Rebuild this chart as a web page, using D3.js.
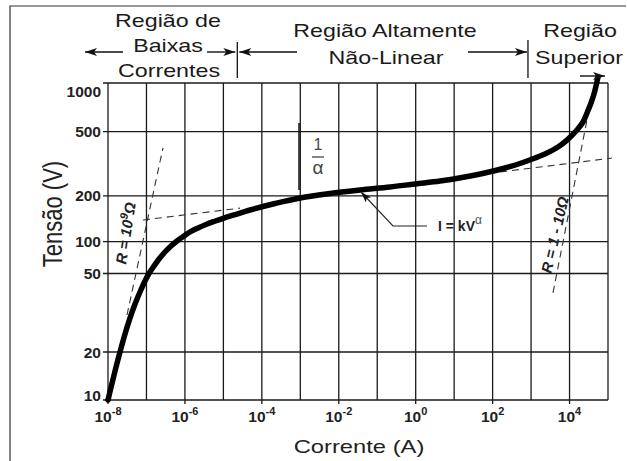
<!DOCTYPE html>
<html><head><meta charset="utf-8">
<script src="https://cdn.jsdelivr.net/npm/d3@7"></script>
<style>
body{margin:0;background:#fff}
svg{display:block}
text{font-family:"Liberation Sans",Arial,Helvetica,sans-serif}
</style>
</head><body>
<svg id="chart" width="627" height="461"></svg>
<script>
// ---------- data ----------
const currentA = [1e-8, 1.27e-8, 1.61e-8, 2.05e-8, 2.77e-8, 3.73e-8, 5.04e-8, 6.79e-8, 9.16e-8, 1.16e-7,
  1.57e-7, 2.12e-7, 3.03e-7, 4.35e-7, 6.22e-7, 9.46e-7, 1.44e-6, 2.19e-6, 3.53e-6, 5.70e-6,
  1.04e-5, 1.89e-5, 4.92e-5, 2.20e-4, 9.82e-4, 5.92e-3, 0.0356, 0.215, 0.959, 4.29,
  16.0, 71.4, 210, 515, 1265, 2594, 5012, 8590, 15630, 22390, 28440, 36140, 43250, 48750, 54950];
const voltageV = [10, 12.7, 16.0, 20, 24.7, 29.7, 35.0, 40.3, 45.8, 50,
  58.9, 68.6, 79.9, 91.1, 101.1, 109, 116.7, 123, 129.7, 135.7,
  143, 149.7, 161.4, 178, 193.5, 206.7, 217.2, 226.8, 236.9, 247.1,
  259.9, 279, 297.6, 317.4, 343.2, 368.6, 401.8, 443.6, 512.2, 574.1, 652.5, 752, 855, 958, 1089];

const xTickExps = [-8, -6, -4, -2, 0, 2, 4];
const xGridExps = [-8, -7, -6, -5, -4, -3, -2, -1, 0, 1, 2, 3, 4, 5];
const yTicks = [10, 20, 50, 100, 200, 500, 1000];
const yTickLabels = ["10", "20", "50", "100", "200", "500", "1000"];

// dashed asymptote lines (current, voltage)
const dashR9I = [3.12e-8, 2.69e-7];   const dashR9V = [30.8, 397];
const dashLowI = [8.1e-8, 2.7e-5];    const dashLowV = [138.8, 166];
const dashHighI = [155, 127000];      const dashHighV = [281, 343];
const dashR1I = [3715, 32000];        const dashR1V = [39.9, 681];

// region boundaries (current)
const regionBounds = [2.3e-5, 830];

// ---------- layout ----------
const svg = d3.select("#chart");
const L = 108, R = 608, T = 83, B = 400;
const x = d3.scaleLog().domain([1e-8, 1e5]).range([L, R]);
// the printed grid is not an exact log grid: piecewise log scale
const y = d3.scaleLog().domain(yTicks).range([400, 352, 273.5, 241.7, 195.8, 131.7, 83]);

const ink = "#1a1a1a";
const SX = 1.25; // horizontal stretch of the printed lettering

// frame
svg.append("path").attr("d", "M10,461V6H626").attr("fill", "none").attr("stroke", "#333").attr("stroke-width", 1.2);

// markers
const defs = svg.append("defs");
defs.append("marker").attr("id", "ah").attr("viewBox", "0 0 12 8").attr("refX", 12).attr("refY", 4)
  .attr("markerWidth", 13).attr("markerHeight", 8).attr("markerUnits", "userSpaceOnUse").attr("orient", "auto")
  .append("path").attr("d", "M0,0L12,4L0,8L3,4Z").attr("fill", "#111");
defs.append("marker").attr("id", "ah2").attr("viewBox", "0 0 12 8").attr("refX", 12).attr("refY", 4)
  .attr("markerWidth", 11).attr("markerHeight", 8).attr("markerUnits", "userSpaceOnUse").attr("orient", "auto")
  .append("path").attr("d", "M0,0L12,4L0,8L3,4Z").attr("fill", "#111");

// grid
const g = svg.append("g");
g.selectAll(".vx").data(xGridExps).join("line")
  .attr("x1", d => x(Math.pow(10, d))).attr("x2", d => x(Math.pow(10, d)))
  .attr("y1", T).attr("y2", d => xTickExps.includes(d) ? B + 4 : B)
  .attr("stroke", ink).attr("stroke-width", 1.3);
g.selectAll(".hy").data(yTicks).join("line")
  .attr("x1", L - 5).attr("x2", R)
  .attr("y1", d => y(d)).attr("y2", d => y(d))
  .attr("stroke", ink).attr("stroke-width", 1.3);

// y tick labels
g.selectAll(".yl").data(yTicks).join("text")
  .attr("x", 101).attr("y", d => Math.min(Math.max(y(d), T + 8), B - 5)).attr("dy", "0.36em")
  .attr("text-anchor", "end").attr("font-size", 15.5).attr("font-weight", "bold").attr("fill", "#222")
  .text((d, i) => yTickLabels[i]);

// x tick labels
const xl = g.selectAll(".xl").data(xTickExps).join("text")
  .attr("x", d => x(Math.pow(10, d))).attr("y", 422).attr("text-anchor", "middle")
  .attr("font-weight", "bold").attr("fill", "#222");
xl.append("tspan").attr("font-size", 15.5).text("10");
xl.append("tspan").attr("font-size", 11).attr("dy", -7).text(d => d);

// axis titles
svg.append("text").attr("transform", `translate(${(L + R) / 2 + 1},453) scale(${SX},1)`)
  .attr("text-anchor", "middle").attr("font-size", 19).attr("fill", "#222").text("Corrente (A)");
svg.append("text").attr("transform", `translate(62,214) rotate(-90) scale(1,${SX})`)
  .attr("text-anchor", "middle").attr("font-size", 22).attr("fill", "#222").text("Tensão (V)");

// dashed lines
const dash = (I, V) => svg.append("line")
  .attr("x1", x(I[0])).attr("y1", y(V[0])).attr("x2", x(I[1])).attr("y2", y(V[1]))
  .attr("stroke", "#333").attr("stroke-width", 1.1).attr("stroke-dasharray", "7,5");
dash(dashR9I, dashR9V);
dash(dashLowI, dashLowV);
dash(dashHighI, dashHighV);
dash(dashR1I, dashR1V);

// main curve
const pts = currentA.map((c, i) => [x(c), y(voltageV[i])]);
svg.append("path").attr("d", d3.line().curve(d3.curveCatmullRom.alpha(0.5))(pts))
  .attr("fill", "none").attr("stroke", "#000").attr("stroke-width", 5.5).attr("stroke-linecap", "round");

// R labels
svg.append("text").attr("transform", "translate(131,234) rotate(-81)")
  .attr("text-anchor", "middle").attr("font-size", 15).attr("font-weight", "bold").attr("font-style", "italic").attr("fill", "#222")
  .call(t => { t.append("tspan").text("R = 10"); t.append("tspan").attr("font-size", 11).attr("dy", -6).text("9");
               t.append("tspan").attr("dy", 6).text("Ω"); });
svg.append("text").attr("transform", "translate(560,236) rotate(-77)")
  .attr("text-anchor", "middle").attr("font-size", 15).attr("font-weight", "bold").attr("font-style", "italic").attr("fill", "#222")
  .text("R = 1 - 10Ω");

// 1/alpha annotation
svg.append("line").attr("x1", 299).attr("x2", 299).attr("y1", 123).attr("y2", 190).attr("stroke", "#111").attr("stroke-width", 1.5);
svg.append("text").attr("x", 318).attr("y", 150).attr("text-anchor", "middle").attr("font-size", 16).attr("fill", "#444").text("1");
svg.append("line").attr("x1", 312).attr("x2", 324).attr("y1", 157).attr("y2", 157).attr("stroke", "#444").attr("stroke-width", 1.3);
svg.append("text").attr("x", 318).attr("y", 174).attr("text-anchor", "middle").attr("font-size", 19).attr("fill", "#444").text("α");

// I = kV^alpha
svg.append("path").attr("d", "M427,226H393L361,192").attr("fill", "none").attr("stroke", "#222").attr("stroke-width", 1.1)
  .attr("marker-end", "url(#ah2)");
svg.append("text").attr("x", 438).attr("y", 231).attr("font-size", 14).attr("font-weight", "bold").attr("fill", "#222")
  .call(t => { t.append("tspan").text("I = kV"); t.append("tspan").attr("font-size", 12).attr("font-weight", "normal").attr("fill", "#555").attr("dy", -7).text("α"); });

// region headers
const head = (txt, cx, by) => svg.append("text").attr("transform", `translate(${cx},${by}) scale(${SX},1)`)
  .attr("text-anchor", "middle").attr("font-size", 18.6).attr("fill", "#1a1a1a").text(txt);
head("Região de", 168, 27); head("Baixas", 168, 52); head("Correntes", 169, 77);
head("Região Altamente", 385, 37); head("Não-Linear", 386, 64);
head("Região", 580, 37); head("Superior", 579, 64);

const bx0 = x(regionBounds[0]), bx1 = x(regionBounds[1]);
const arrow = (x1, y1, x2, y2) => svg.append("line").attr("x1", x1).attr("y1", y1).attr("x2", x2).attr("y2", y2)
  .attr("stroke", "#111").attr("stroke-width", 1.4).attr("marker-end", "url(#ah)");
svg.append("line").attr("x1", bx0).attr("x2", bx0).attr("y1", 42).attr("y2", 78).attr("stroke", "#111").attr("stroke-width", 1.3);
svg.append("line").attr("x1", bx1).attr("x2", bx1).attr("y1", 40).attr("y2", 78).attr("stroke", "#111").attr("stroke-width", 1.3);
arrow(123, 52, 85, 52);
arrow(207, 52, bx0 - 2, 52);
arrow(297, 52, bx0 + 2, 52);
arrow(468, 52, bx1 - 1, 52);
arrow(580, 76, 605, 76);
</script>
</body></html>
